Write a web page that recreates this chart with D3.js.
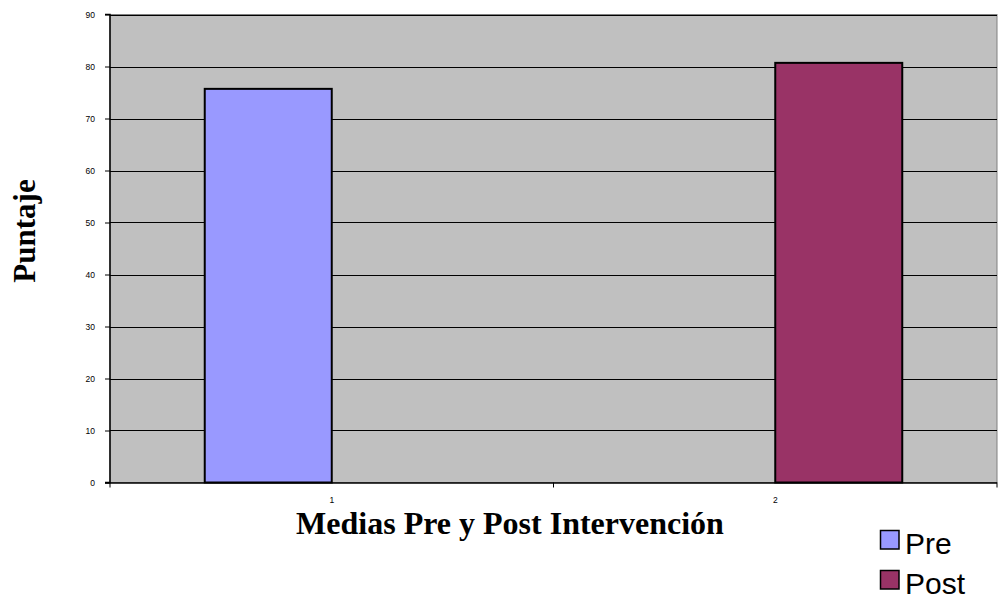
<!DOCTYPE html>
<html><head><meta charset="utf-8">
<script src="https://cdn.jsdelivr.net/npm/d3@7"></script>
<style>body{margin:0;background:#fff}svg{display:block}</style>
</head><body>
<svg id="c" width="1001" height="600"></svg>
<script>
const categories = ["1", "2"];
const seriesNames = ["Pre", "Post"];
const preValues = [75.7, null];
const postValues = [null, 80.7];
const yTicks = [0, 10, 20, 30, 40, 50, 60, 70, 80, 90];
const colors = ["#9999FF", "#993366"];

const svg = d3.select("#c");
const L = 110, R = 997, T = 14.5, B = 482.5;
const x = d3.scaleBand().domain(categories).range([L, R]);
const inner = d3.scaleBand().domain(seriesNames).range([0, x.bandwidth()]).paddingOuter(0.746);
const y = d3.scaleLinear().domain([0, 90]).range([B, T]);

svg.append("rect").attr("x", L).attr("y", T).attr("width", R - L).attr("height", B - T)
  .attr("fill", "#C0C0C0").attr("stroke", "#808080").attr("stroke-width", 1);

svg.append("g").selectAll("line").data(yTicks.filter(d => d > 0)).join("line")
  .attr("x1", L).attr("x2", R).attr("y1", d => Math.round(y(d)) + 0.5).attr("y2", d => Math.round(y(d)) + 0.5)
  .attr("stroke", "#000").attr("stroke-width", 1);

const series = [preValues, postValues];
series.forEach((vals, si) => {
  svg.append("g").selectAll("rect").data(categories.map((c, i) => ({c, v: vals[i]})).filter(d => d.v != null)).join("rect")
    .attr("x", d => x(d.c) + inner(seriesNames[si]))
    .attr("width", inner.bandwidth())
    .attr("y", d => y(d.v))
    .attr("height", d => B - y(d.v))
    .attr("fill", colors[si]).attr("stroke", "#000").attr("stroke-width", 2);
});

const yAxis = d3.axisLeft(y).tickValues(yTicks).tickSize(5).tickPadding(10);
const gy = svg.append("g").attr("transform", `translate(${L},0)`).call(yAxis);
gy.selectAll("text").attr("font-family", "Liberation Sans, Arial, sans-serif").attr("font-size", 8.5).attr("fill", "#000");
gy.select(".domain").attr("stroke", "#000").attr("stroke-width", 1.5).attr("d", `M-5,${B}H0V${T}H-5`);
gy.selectAll(".tick line").attr("stroke", "#000");

// x axis: ticks between categories
const gx = svg.append("g");
gx.append("line").attr("x1", L - 5).attr("x2", R).attr("y1", B + 0.5).attr("y2", B + 0.5).attr("stroke", "#000").attr("stroke-width", 1.5);
const boundaries = categories.map(c => x(c)).concat([x(categories[categories.length - 1]) + x.bandwidth()]);
gx.selectAll("line.tk").data(boundaries).join("line").attr("class", "tk")
  .attr("x1", d => d).attr("x2", d => d).attr("y1", B).attr("y2", B + 5).attr("stroke", "#000");
gx.selectAll("text").data(categories).join("text")
  .attr("x", d => x(d) + x.bandwidth() / 2).attr("y", 503)
  .attr("text-anchor", "middle").attr("font-family", "Liberation Sans, Arial, sans-serif").attr("font-size", 8.5)
  .text(d => d);

svg.append("text").attr("x", 510).attr("y", 534).attr("text-anchor", "middle")
  .attr("font-family", "Liberation Serif, Times New Roman, serif").attr("font-weight", "bold").attr("font-size", 32)
  .text("Medias Pre y Post Intervención");

svg.append("text").attr("transform", "translate(35,231) rotate(-90)").attr("text-anchor", "middle")
  .attr("font-family", "Liberation Serif, Times New Roman, serif").attr("font-weight", "bold").attr("font-size", 31)
  .text("Puntaje");

const lg = svg.append("g");
seriesNames.forEach((n, i) => {
  const yy = 530.5 + i * 40;
  lg.append("rect").attr("x", 880.5).attr("y", yy).attr("width", 18.5).attr("height", 18.5)
    .attr("fill", colors[i]).attr("stroke", "#000").attr("stroke-width", 1.5);
  lg.append("text").attr("x", 905).attr("y", yy + 23.5).attr("font-family", "Liberation Sans, Arial, sans-serif")
    .attr("font-size", 30).text(n);
});
</script>
</body></html>
